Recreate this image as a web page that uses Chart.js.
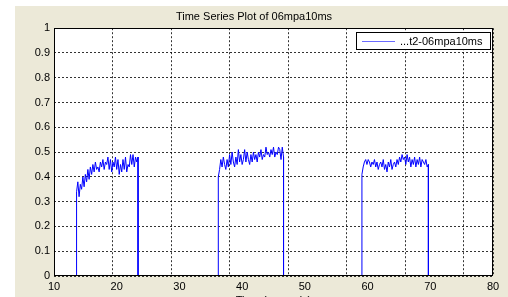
<!DOCTYPE html>
<html>
<head>
<meta charset="utf-8">
<script src="https://cdn.jsdelivr.net/npm/chart.js@4.4.1/dist/chart.umd.min.js"></script>
<style>
html,body{margin:0;padding:0;background:#fff;overflow:hidden;width:508px;height:297px;}
#fig{position:absolute;left:15px;top:6px;width:493px;height:310px;background:#ece9d8;}
</style>
</head>
<body>
<div id="fig"><canvas id="chart" width="493" height="310"></canvas></div>
<script>
const titleText = "Time Series Plot of 06mpa10ms";
const seriesName = "...t2-06mpa10ms";
const xLabel = "Time (seconds)";
const xRange = [10, 80];
const yRange = [0, 1];
const yTickLabels = ["0", "0.1", "0.2", "0.3", "0.4", "0.5", "0.6", "0.7", "0.8", "0.9", "1"];

const pulseStart = [13.6, 36.2, 59.1];
const sampleStep = 0.2;

const pulse1 = [0.34,0.38,0.32,0.37,0.35,0.40,0.36,0.41,0.38,0.43,
  0.39,0.44,0.41,0.45,0.42,0.46,0.43,0.44,0.42,0.46,
  0.44,0.47,0.43,0.46,0.45,0.48,0.43,0.47,0.42,0.46,
  0.44,0.48,0.43,0.47,0.41,0.45,0.42,0.47,
  0.43,0.48,0.42,0.45,0.44,0.49,0.45,0.49,0.44,0.48,
  0.46,0.48];
const pulse2 = [0.40,0.43,0.47,0.44,0.48,0.45,0.43,0.47,0.44,0.49,
  0.45,0.50,0.46,0.44,0.48,0.45,0.51,0.46,0.49,0.45,
  0.47,0.51,0.46,0.50,0.47,0.45,0.49,0.46,0.50,0.47,
  0.49,0.46,0.50,0.48,0.51,0.47,0.49,0.48,0.52,0.49,
  0.50,0.48,0.51,0.49,0.52,0.48,0.50,0.49,0.52,0.51,
  0.47,0.52,0.48];
const pulse3 = [0.41,0.44,0.46,0.47,0.45,0.47,0.46,0.44,0.46,0.45,
  0.47,0.44,0.46,0.43,0.45,0.46,0.44,0.47,0.43,0.45,
  0.42,0.46,0.44,0.47,0.43,0.45,0.46,0.44,0.47,0.45,
  0.48,0.46,0.49,0.47,0.48,0.45,0.49,0.46,0.48,0.44,
  0.47,0.45,0.48,0.44,0.47,0.45,0.48,0.44,0.47,0.46,
  0.45,0.47,0.44,0.45];

const pulses = [pulse1, pulse2, pulse3];

// zero baseline between the pulses
let points = [{x: xRange[0], y: 0}];
pulses.forEach((vals, i) => {
  const t0 = pulseStart[i];
  points.push({x: t0, y: 0});
  vals.forEach((v, j) => points.push({x: +(t0 + j * sampleStep).toFixed(2), y: v}));
  const tEnd = +(t0 + (vals.length - 1) * sampleStep).toFixed(2);
  points.push({x: tEnd, y: 0});
});
points.push({x: xRange[1], y: 0});

const FONT = "'Liberation Sans', Arial, sans-serif";
const gridColor = "rgba(0,0,0,0.8)";

// white axes background + black box + legend box
const matlabAxes = {
  id: "matlabAxes",
  beforeDraw(chart) {
    const a = chart.chartArea, ctx = chart.ctx;
    ctx.save();
    ctx.fillStyle = "#fff";
    ctx.fillRect(a.left, a.top, a.right - a.left, a.bottom - a.top);
    ctx.restore();
  },
  afterDraw(chart) {
    const a = chart.chartArea, ctx = chart.ctx;
    ctx.save();
    ctx.strokeStyle = "#000";
    ctx.lineWidth = 1;
    ctx.strokeRect(Math.round(a.left) + 0.5, Math.round(a.top) + 0.5,
      Math.round(a.right - a.left) - 1, Math.round(a.bottom - a.top) - 1);

    // legend
    const ds = chart.data.datasets[0];
    const bx = Math.round(a.right) - 137, by = Math.round(a.top) + 4;
    ctx.fillStyle = "#fff";
    ctx.fillRect(bx, by, 134, 17);
    ctx.strokeStyle = "#000";
    ctx.strokeRect(bx + 0.5, by + 0.5, 134, 17);
    ctx.strokeStyle = "#6b6bff";
    ctx.beginPath();
    ctx.moveTo(bx + 6, by + 9.5);
    ctx.lineTo(bx + 39, by + 9.5);
    ctx.stroke();
    ctx.fillStyle = "#000";
    ctx.font = "11px " + FONT;
    ctx.textBaseline = "middle";
    ctx.fillText(ds.label, bx + 44, by + 9.5);
    ctx.restore();
  }
};

new Chart(document.getElementById("chart"), {
  type: "scatter",
  data: {
    datasets: [{
      label: seriesName,
      data: points,
      showLine: true,
      borderColor: "#0000ff",
      borderWidth: 1,
      pointRadius: 0,
      tension: 0
    }]
  },
  options: {
    responsive: false,
    animation: false,
    layout: {padding: {left: 0, right: 15, top: 0, bottom: 0}},
    plugins: {
      legend: {display: false},
      tooltip: {enabled: false},
      title: {
        display: true,
        text: titleText,
        color: "#000",
        font: {family: FONT, size: 11, weight: "normal"},
        padding: {top: 4, bottom: 5}
      }
    },
    scales: {
      x: {
        type: "linear",
        min: xRange[0], max: xRange[1],
        ticks: {stepSize: 10, color: "#000", font: {family: FONT, size: 11}, padding: 4, maxRotation: 0},
        grid: {display: false, drawTicks: false},
        border: {display: false},
        title: {display: true, text: xLabel, color: "#000", font: {family: FONT, size: 11}, padding: {top: 0, bottom: 8}},
        afterFit(s) { s.height = 40; }
      },
      x2: {
        type: "linear",
        position: "bottom",
        min: 10, max: 85,
        ticks: {display: false, stepSize: 10},
        grid: {color: gridColor, lineWidth: 1, drawTicks: false},
        border: {display: false, dash: [2, 2]},
        afterFit(s) { s.height = 0; }
      },
      y: {
        min: yRange[0], max: yRange[1],
        ticks: {
          stepSize: 0.1, color: "#000", font: {family: FONT, size: 11}, padding: 4,
          callback: (v, i) => yTickLabels[i]
        },
        grid: {color: gridColor, lineWidth: 1, drawTicks: false},
        border: {display: false, dash: [2, 2]},
        afterFit(s) { s.width = 39; }
      }
    }
  },
  plugins: [matlabAxes]
});
</script>
</body>
</html>
